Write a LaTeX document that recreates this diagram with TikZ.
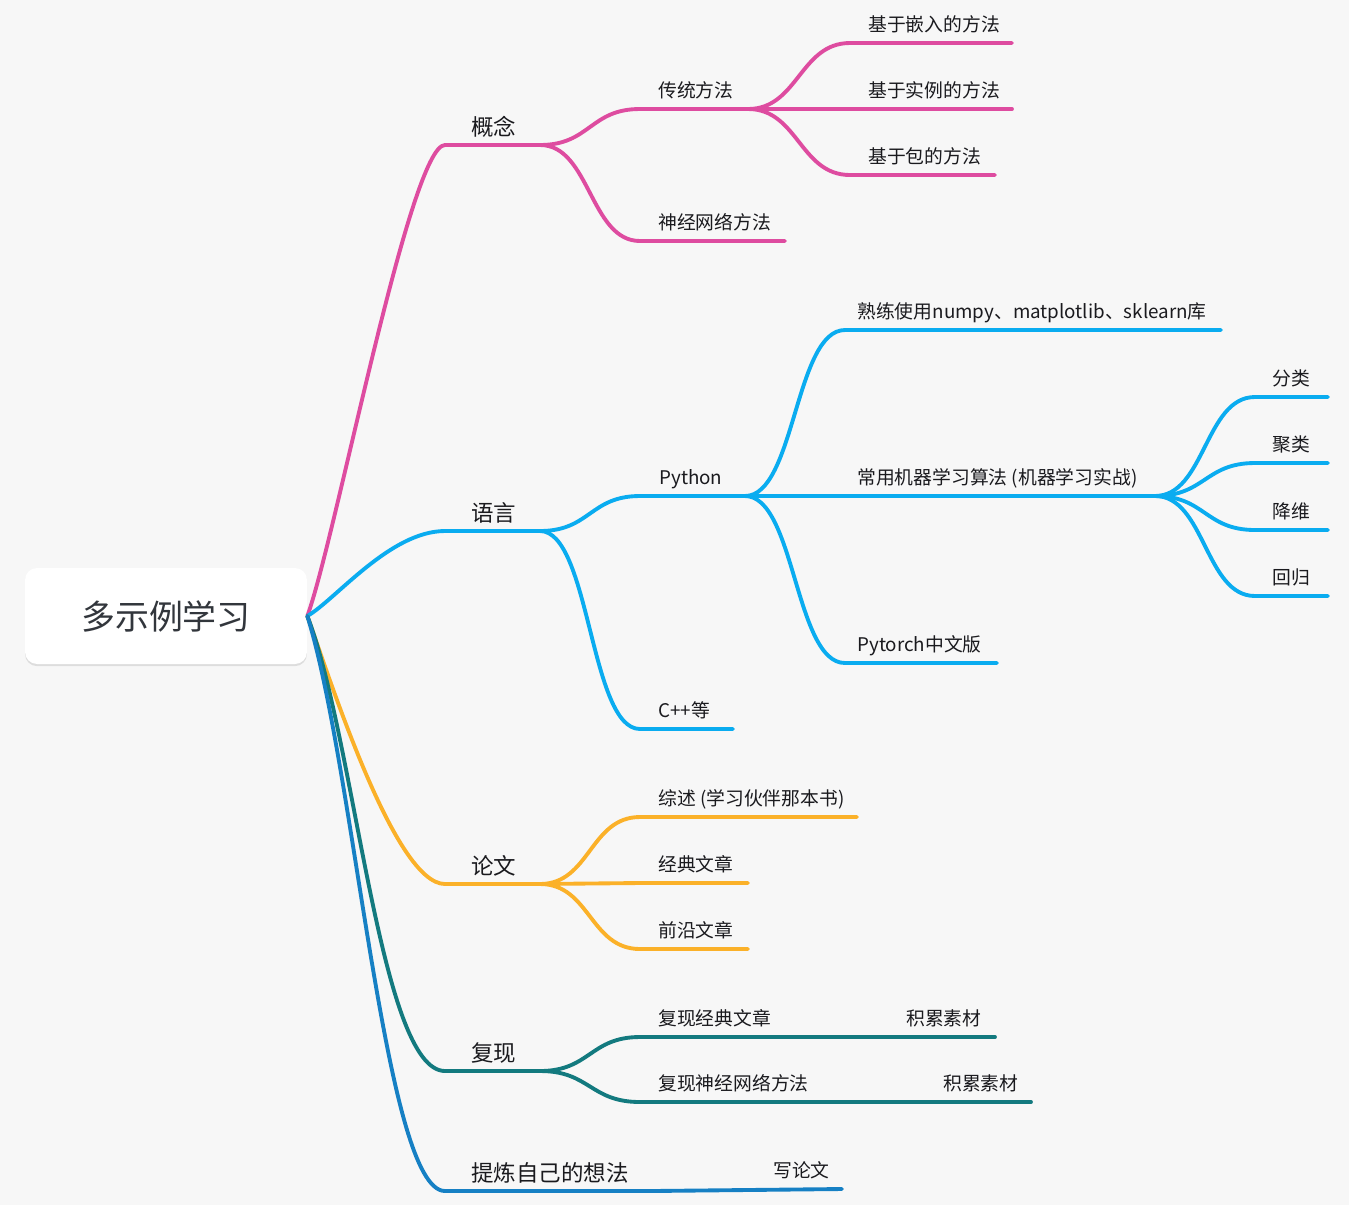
\documentclass[tikz,border=0pt]{standalone}
\usepackage{fontspec}
\setmainfont{Noto Sans CJK SC}
\usetikzlibrary{shadows}
\definecolor{bgcol}{RGB}{247,247,247}
\definecolor{txtdark}{RGB}{26,26,30}
\definecolor{roottxt}{RGB}{50,54,60}
\definecolor{mypink}{RGB}{222,76,160}
\definecolor{myblue}{RGB}{10,172,240}
\definecolor{myamber}{RGB}{251,177,41}
\definecolor{myteal}{RGB}{19,122,127}
\definecolor{mynavy}{RGB}{22,128,196}
\tikzset{
  rootbox/.style={rectangle, fill=white, rounded corners=0.24cm,
    minimum width=5.64cm, minimum height=1.92cm, text=roottxt,
    font=\fontsize{19.3}{23}\selectfont,
    drop shadow={shadow xshift=0pt, shadow yshift=-1.2pt, opacity=0.10, fill=black}},
  toplbl/.style={anchor=base west, inner sep=0pt, text=txtdark,
    font=\fontsize{12.8}{15}\selectfont},
  lbl/.style={anchor=base west, inner sep=0pt, text=txtdark,
    font=\fontsize{10.7}{13}\selectfont},
  branch/.style={line width=2.2pt, line cap=round},
  pk/.style={branch, draw=mypink},
  bl/.style={branch, draw=myblue},
  am/.style={branch, draw=myamber},
  tl/.style={branch, draw=myteal},
  nv/.style={branch, draw=mynavy},
  sc/.style={to path={.. controls +(50,0) and +(-50,0) .. (\tikztotarget)}}
}
\begin{document}
\begin{tikzpicture}[x=0.02cm, y=-0.02cm]
  % background
  \fill[bgcol] (0,0) rectangle (1349,1205);

  % central topic
  \node[rootbox] (root) at (166,616) {多示例学习};

  % 概念
  \coordinate (gn) at (445,145);    \coordinate (gn-j) at (540,145);
  \coordinate (gn1) at (640,109);   \coordinate (gn1-j) at (748,109);
  \coordinate (gn2) at (640,241);   \coordinate (gn2-e) at (785,241);
  \coordinate (gn11) at (850,43);   \coordinate (gn11-e) at (1012,43);
  \coordinate (gn12-e) at (1012,109);
  \coordinate (gn13) at (850,175);  \coordinate (gn13-e) at (995,175);
  \draw[pk] (root.east) .. controls +(28,-76) and +(-35,0) .. (gn) -- (gn-j);
  \draw[pk] (gn-j) to[sc] (gn1) -- (gn1-j);
  \draw[pk] (gn-j) to[sc] (gn2) -- (gn2-e);
  \draw[pk] (gn1-j) to[sc] (gn11) -- (gn11-e);
  \draw[pk] (gn1-j) -- (gn12-e);
  \draw[pk] (gn1-j) to[sc] (gn13) -- (gn13-e);
  \node[toplbl] (gn-t) at (471,135) {概念};
  \node[lbl] (gn1-t) at (658,97) {传统方法};
  \node[lbl] (gn2-t) at (658,229) {神经网络方法};
  \node[lbl] (gn11-t) at (868,31) {基于嵌入的方法};
  \node[lbl] (gn12-t) at (868,97) {基于实例的方法};
  \node[lbl] (gn13-t) at (868,163) {基于包的方法};

  % 语言
  \coordinate (yy) at (445,531);    \coordinate (yy-j) at (540,531);
  \coordinate (yy1) at (640,496);   \coordinate (yy1-j) at (745,496);
  \coordinate (yy2) at (640,729);   \coordinate (yy2-e) at (733,729);
  \coordinate (yy11) at (845,330);  \coordinate (yy11-e) at (1221,330);
  \coordinate (yy12-j) at (1155,496);
  \coordinate (yy13) at (845,663);  \coordinate (yy13-e) at (997,663);
  \coordinate (yy121) at (1255,397); \coordinate (yy121-e) at (1328,397);
  \coordinate (yy122) at (1255,463); \coordinate (yy122-e) at (1328,463);
  \coordinate (yy123) at (1255,530); \coordinate (yy123-e) at (1328,530);
  \coordinate (yy124) at (1255,596); \coordinate (yy124-e) at (1328,596);
  \draw[bl] (root.east) .. controls +(28,-16) and +(-55,0) .. (yy) -- (yy-j);
  \draw[bl] (yy-j) to[sc] (yy1) -- (yy1-j);
  \draw[bl] (yy-j) to[sc] (yy2) -- (yy2-e);
  \draw[bl] (yy1-j) to[sc] (yy11) -- (yy11-e);
  \draw[bl] (yy1-j) -- (yy12-j);
  \draw[bl] (yy1-j) to[sc] (yy13) -- (yy13-e);
  \draw[bl] (yy12-j) to[sc] (yy121) -- (yy121-e);
  \draw[bl] (yy12-j) to[sc] (yy122) -- (yy122-e);
  \draw[bl] (yy12-j) to[sc] (yy123) -- (yy123-e);
  \draw[bl] (yy12-j) to[sc] (yy124) -- (yy124-e);
  \node[toplbl] (yy-t) at (471,521) {语言};
  \node[lbl] (yy1-t) at (659,484) {Python};
  \node[lbl] (yy2-t) at (658,717) {C++等};
  \node[lbl] (yy11-t) at (857,318) {熟练使用numpy、matplotlib、sklearn库};
  \node[lbl] (yy12-t) at (857,484) {常用机器学习算法 (机器学习实战)};
  \node[lbl] (yy13-t) at (857,651) {Pytorch中文版};
  \node[lbl] (yy121-t) at (1272,385) {分类};
  \node[lbl] (yy122-t) at (1272,451) {聚类};
  \node[lbl] (yy123-t) at (1272,518) {降维};
  \node[lbl] (yy124-t) at (1272,584) {回归};

  % 论文
  \coordinate (lw) at (445,884);    \coordinate (lw-j) at (540,884);
  \coordinate (lw1) at (640,817);   \coordinate (lw1-e) at (857,817);
  \coordinate (lw2) at (640,883);   \coordinate (lw2-e) at (748,883);
  \coordinate (lw3) at (640,949);   \coordinate (lw3-e) at (748,949);
  \draw[am] (root.east) .. controls +(23,64) and +(-50,0) .. (lw) -- (lw-j);
  \draw[am] (lw-j) to[sc] (lw1) -- (lw1-e);
  \draw[am] (lw-j) to[sc] (lw2) -- (lw2-e);
  \draw[am] (lw-j) to[sc] (lw3) -- (lw3-e);
  \node[toplbl] (lw-t) at (471,874) {论文};
  \node[lbl] (lw1-t) at (658,805) {综述 (学习伙伴那本书)};
  \node[lbl] (lw2-t) at (658,871) {经典文章};
  \node[lbl] (lw3-t) at (658,937) {前沿文章};

  % 复现
  \coordinate (fx) at (445,1071);   \coordinate (fx-j) at (540,1071);
  \coordinate (fx1) at (640,1037);  \coordinate (fx1-j) at (786,1037);
  \coordinate (fx11-e) at (995,1037);
  \coordinate (fx2) at (640,1102);  \coordinate (fx2-j) at (822,1102);
  \coordinate (fx21-e) at (1031,1102);
  \draw[tl] (root.east) .. controls +(48,124) and +(-65,0) .. (fx) -- (fx-j);
  \draw[tl] (fx-j) to[sc] (fx1) -- (fx1-j);
  \draw[tl] (fx1-j) -- (fx11-e);
  \draw[tl] (fx-j) to[sc] (fx2) -- (fx2-j);
  \draw[tl] (fx2-j) -- (fx21-e);
  \node[toplbl] (fx-t) at (471,1061) {复现};
  \node[lbl] (fx1-t) at (658,1025) {复现经典文章};
  \node[lbl] (fx11-t) at (906,1025) {积累素材};
  \node[lbl] (fx2-t) at (658,1090) {复现神经网络方法};
  \node[lbl] (fx21-t) at (943,1090) {积累素材};

  % 提炼自己的想法
  \coordinate (tl) at (445,1191);   \coordinate (tl-j) at (652,1191);
  \coordinate (tl1-e) at (842,1189);
  \draw[nv] (root.east) .. controls +(48,154) and +(-60,0) .. (tl) -- (tl-j);
  \draw[nv] (tl-j) -- (tl1-e);
  \node[toplbl] (tl-t) at (471,1181) {提炼自己的想法};
  \node[lbl] (tl1-t) at (773,1177) {写论文};
\end{tikzpicture}
\end{document}
